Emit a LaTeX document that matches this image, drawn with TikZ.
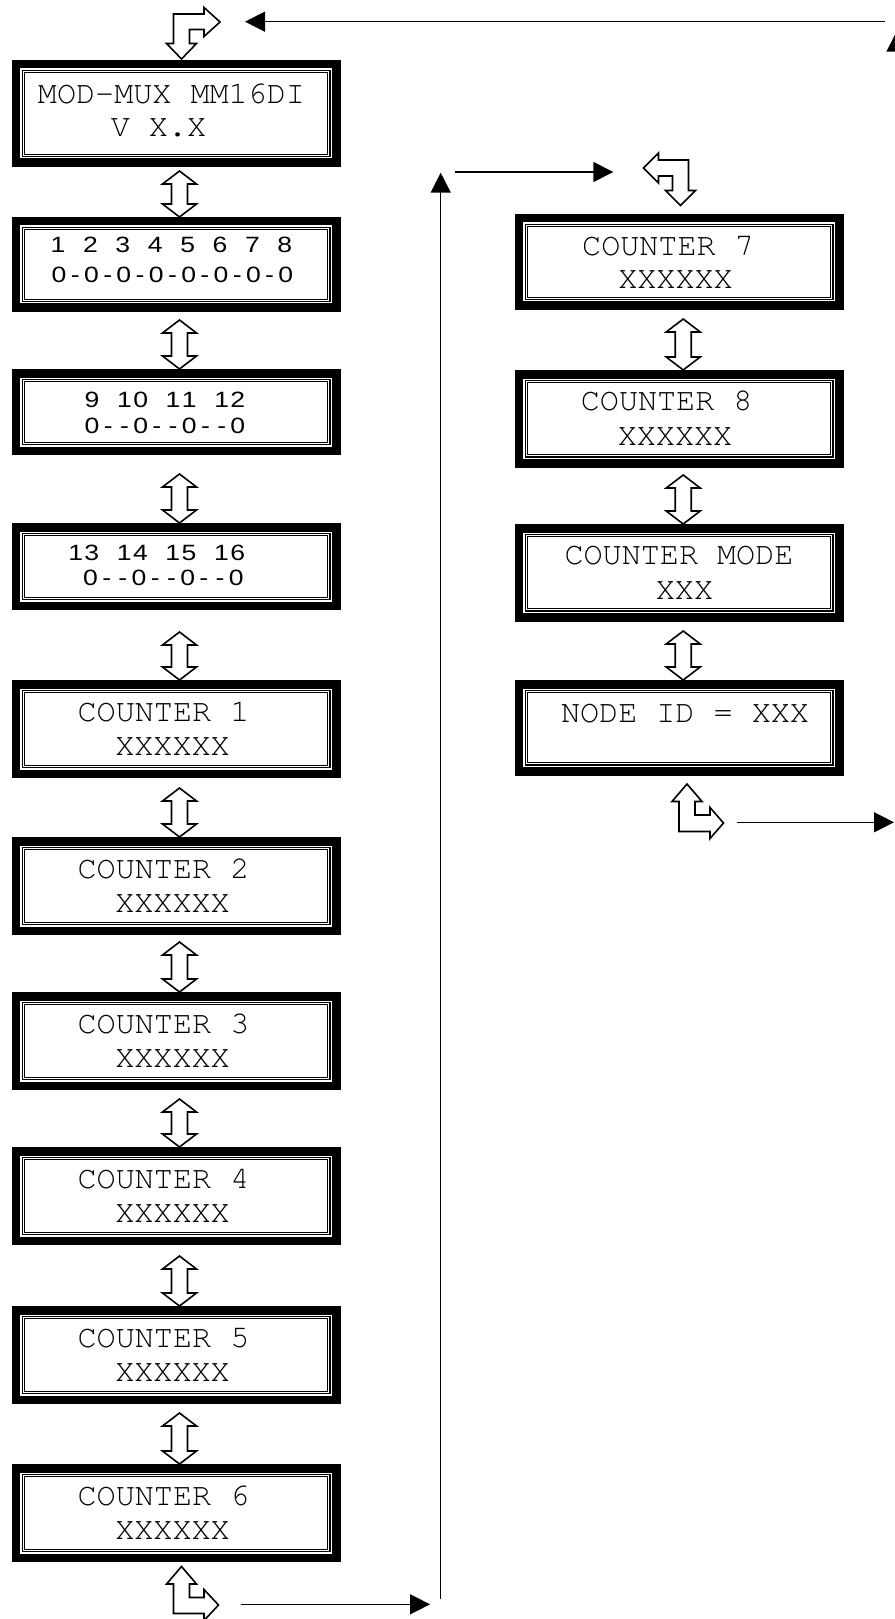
\documentclass[tikz,border=0pt]{standalone}
\usepackage[T1]{fontenc}
\usepackage{fontspec}
\usetikzlibrary{fit,calc,arrows.meta}
\newcommand\lcdmono{\fontencoding{T1}\fontfamily{pcr}\selectfont}
\newfontfamily\lcdsans[FakeStretch=1.2]{Liberation Sans}
\newlength\mw
\setlength\mw{12.15pt}
\newcommand\ms[1]{\msloop#1\relax}
\def\msloop#1{\ifx#1\relax\else\msbox{#1}\expandafter\msloop\fi}
\def\msbox#1{\ifx#1*\hbox to\mw{\hss}\else\hbox to\mw{\hss#1\hss}\fi}
\tikzset{
  lcd/.style={rectangle, fill=black, inner sep=0pt, outer sep=0pt},
  big/.style={anchor=base, inner sep=0pt, font=\lcdmono\fontsize{23.84pt}{25pt}\selectfont},
  small/.style={anchor=base, inner sep=0pt, font=\lcdsans\fontsize{16.6pt}{17pt}\selectfont},
  blk/.style={draw, fill=white, line width=1.2pt, line join=miter},
  conn/.style={line width=1.1pt, -{Triangle[length=15pt,width=15pt]}}
}
\newcommand\lcdbox[5]{%
  \node[lcd, fit={(#2,#3) (#4,#5)}] (#1) {};
  \fill[white] ([shift={(8.5,8.5)}]#1.north west) rectangle ([shift={(-8.5,-8.5)}]#1.south east);
  \draw[line width=0.9pt] ([shift={(10.6,10.6)}]#1.north west) rectangle ([shift={(-10.6,-10.6)}]#1.south east);
  \draw[line width=0.8pt] ([shift={(12.9,12.9)}]#1.north west) rectangle ([shift={(-12.9,-12.9)}]#1.south east);
}
% double block arrow from upper node #1 to lower node #2, x offset #3 (px), top gap #4 (px)
\newcommand\dbl[4]{%
  \draw[blk] let \p1=([shift={(#3,#4)}]#1.south), \p2=([shift={(#3,0)}]#2.north) in
    (\x1,\y1) -- ({\x1+12.75pt},{\y1-9.75pt}) -- ({\x1+6pt},{\y1-9.75pt})
    -- ({\x1+6pt},{\y2+9.75pt}) -- ({\x1+12.75pt},{\y2+9.75pt}) -- (\x1,\y2)
    -- ({\x1-12.75pt},{\y2+9.75pt}) -- ({\x1-6pt},{\y2+9.75pt})
    -- ({\x1-6pt},{\y1-9.75pt}) -- ({\x1-12.75pt},{\y1-9.75pt}) -- cycle;
}
\begin{document}
\begin{tikzpicture}[x=0.75pt,y=-0.75pt]
\fill[white] (0,0) rectangle (894,1619);
\useasboundingbox (0,0) rectangle (894,1619);

% ---- left column boxes
\lcdbox{b1}{11.5}{60}{340.5}{167}
\lcdbox{b2}{11.5}{217}{340.5}{312}
\lcdbox{b3}{11.5}{369}{340.5}{455}
\lcdbox{b4}{11.5}{523}{340.5}{610}
\lcdbox{c1}{11.5}{680}{340.5}{778}
\lcdbox{c2}{11.5}{837}{340.5}{935}
\lcdbox{c3}{11.5}{992}{340.5}{1090}
\lcdbox{c4}{11.5}{1147}{340.5}{1245}
\lcdbox{c5}{11.5}{1306}{340.5}{1404}
\lcdbox{c6}{11.5}{1464}{340.5}{1562}
% ---- right column boxes
\lcdbox{c7}{514.5}{214}{843.5}{310}
\lcdbox{c8}{514.5}{370}{843.5}{467.5}
\lcdbox{cm}{514.5}{524}{843.5}{621.5}
\lcdbox{ni}{514.5}{680}{843.5}{775.5}

% ---- texts
\node[big] (b1a) at (171.5,104) {MOD-MUX MM16DI};
\node[big] (b1b) at (158.5,137) {V X.X};
\node[small] (b2a) at (171.5,253) {\ms{1*2*3*4*5*6*7*8}};
\node[small] (b2b) at (172.5,283) {\ms{0-0-0-0-0-0-0-0}};
\node[small] (b3a) at (165,407) {\ms{9*10*11*12}};
\node[small] (b3b) at (165,433) {\ms{0--0--0--0}};
\node[small] (b4a) at (156.7,560) {\ms{13*14*15*16}};
\node[small] (b4b) at (163.4,585) {\ms{0--0--0--0}};
\node[big] (c1a) at (163.5,721) {COUNTER 1};
\node[big] (c1b) at (172.5,755) {XXXXXX};
\node[big] (c2a) at (163.5,878) {COUNTER 2};
\node[big] (c2b) at (172.5,912) {XXXXXX};
\node[big] (c3a) at (163.5,1033) {COUNTER 3};
\node[big] (c3b) at (172.5,1067) {XXXXXX};
\node[big] (c4a) at (163.5,1188) {COUNTER 4};
\node[big] (c4b) at (172.5,1222) {XXXXXX};
\node[big] (c5a) at (163.5,1347) {COUNTER 5};
\node[big] (c5b) at (172.5,1381) {XXXXXX};
\node[big] (c6a) at (163.5,1505) {COUNTER 6};
\node[big] (c6b) at (172.5,1539) {XXXXXX};
\node[big] (c7a) at (668,256) {COUNTER 7};
\node[big] (c7b) at (675.5,289) {XXXXXX};
\node[big] (c8a) at (666.7,410) {COUNTER 8};
\node[big] (c8b) at (675,445) {XXXXXX};
\node[big] (cma) at (679,564) {COUNTER MODE};
\node[big] (cmb) at (684.5,599.5) {XXX};
\node[big] (nia) at (685,722) {NODE ID = XXX};

% ---- double block arrows
\dbl{b1}{b2}{3.5}{4}
\dbl{b2}{b3}{3.5}{8}
\dbl{b3}{b4}{3.5}{19}
\dbl{b4}{c1}{3.5}{22}
\dbl{c1}{c2}{3.5}{10}
\dbl{c2}{c3}{3.5}{7}
\dbl{c3}{c4}{3.5}{9}
\dbl{c4}{c5}{3.5}{11}
\dbl{c5}{c6}{3.5}{9}
\dbl{c7}{c8}{4.2}{9}
\dbl{c8}{cm}{4.2}{7.5}
\dbl{cm}{ni}{4.2}{9.5}

% ---- bent block arrows
\draw[blk] (181.5,59) -- (196.5,43.5) -- (189.5,43.5) -- (189.5,29.5) -- (204,29.5)
  -- (204,36.5) -- (220,22) -- (204,7.5) -- (204,14) -- (173.5,14) -- (173.5,43.5)
  -- (166.5,43.5) -- cycle;
\draw[blk] (643.5,168) -- (658.5,153) -- (658.5,160) -- (688.5,160) -- (688.5,190.5)
  -- (695.5,190.5) -- (680.5,205.5) -- (665.5,190.5) -- (672.5,190.5) -- (672.5,176)
  -- (658.5,176) -- (658.5,183) -- cycle;
\draw[blk] (687,784) -- (702,801.5) -- (695,801.5) -- (695,815) -- (710,815)
  -- (710,807.5) -- (723.5,823) -- (710,838.5) -- (710,831.5) -- (679,831.5)
  -- (679,801.5) -- (672,801.5) -- cycle;
\draw[blk] (181.5,1566.5) -- (196.5,1584) -- (189.5,1584) -- (189.5,1597.5) -- (204,1597.5)
  -- (204,1589.5) -- (218.5,1605) -- (204,1620.5) -- (204,1613.5) -- (173.5,1613.5)
  -- (173.5,1584) -- (166.5,1584) -- cycle;

% ---- line connectors
\coordinate (l1s) at (240.7,1604.3); \coordinate (l1e) at (430,1604.3);
\coordinate (l2s) at (440.7,1599.3); \coordinate (l2e) at (440.7,172.7);
\coordinate (l3s) at (455,172);      \coordinate (l3e) at (613.3,172);
\coordinate (l4s) at (736.7,822.3);  \coordinate (l4e) at (894,822.3);
\coordinate (l5s) at (896.5,822.3);  \coordinate (l5e) at (896.5,31.7);
\coordinate (l6s) at (885,21.7);     \coordinate (l6e) at (245,21.7);
\draw[conn] (l1s) -- (l1e);
\draw[conn] (l2s) -- (l2e);
\draw[conn] (l3s) -- (l3e);
\draw[conn] (l4s) -- (l4e);
\draw[conn] (l5s) -- (l5e);
\draw[conn] (l6s) -- (l6e);
\end{tikzpicture}
\end{document}
